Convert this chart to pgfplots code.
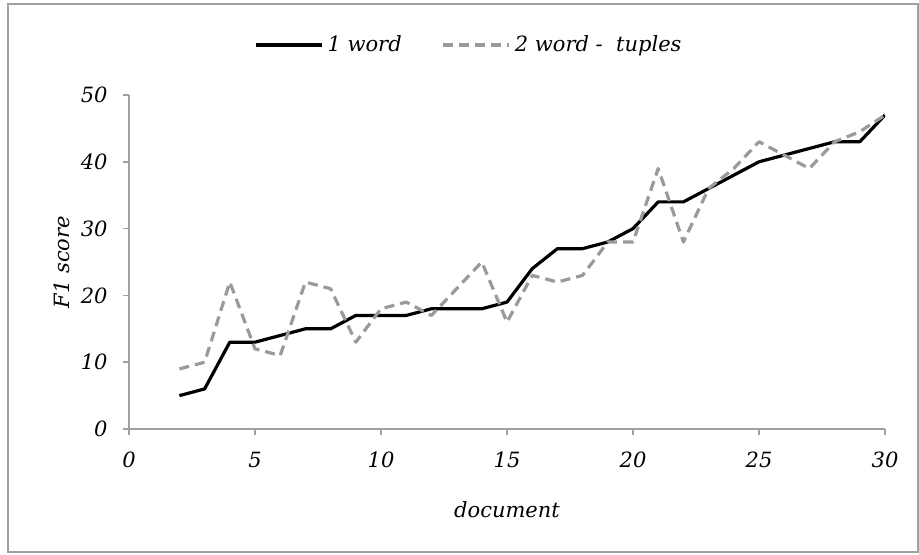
\documentclass[border=0pt]{standalone}
\usepackage{fontspec}
\setmainfont{DejaVu Serif}
\usepackage{pgfplots}
\pgfplotsset{compat=1.18}
\definecolor{axgray}{HTML}{A0A0A0}
\definecolor{dashgray}{HTML}{9A9A9A}
\begin{document}
\fontsize{10.5}{12}\selectfont\itshape
\begin{tikzpicture}
\useasboundingbox (0,0) rectangle (459.5pt,277pt);
\draw[axgray, line width=1pt] (4pt,1pt) rectangle (459pt,275pt);
\begin{axis}[
  at={(64.5pt,62.5pt)}, anchor=south west,
  scale only axis, width=378pt, height=167pt,
  xmin=0, xmax=30, ymin=0, ymax=50,
  xtick={0,5,...,30}, ytick={0,10,...,50},
  axis lines=left,
  axis line style={axgray, line width=0.8pt, -},
  tick style={axgray, line width=0.8pt},
  tick align=outside, major tick length=3pt,
  /pgf/number format/assume math mode=true,
  ticklabel style={font=\fontsize{10.5}{12}\selectfont\itshape},
  xticklabel style={yshift=-5pt},
  yticklabel style={xshift=-4pt},
  xlabel={document}, ylabel={F1 score},
  xlabel style={at={(axis description cs:0.5,-0.2425)}, anchor=center},
  ylabel style={at={(axis description cs:-0.0886,0.5)}, anchor=center},
  legend columns=2,
  legend style={draw=none, fill=none, at={(axis description cs:0.451,1.1497)}, anchor=center,
    font=\fontsize{10.5}{12}\selectfont\itshape,
    /tikz/every even column/.append style={column sep=18pt}},
  legend cell align=left,
  legend image code/.code={\draw[#1] (0pt,0pt) -- (33pt,0pt);},
]
\addplot[black, line width=1.6pt, line join=round] coordinates {
(2,5) (3,6) (4,13) (5,13) (6,14) (7,15) (8,15) (9,17) (10,17) (11,17)
(12,18) (13,18) (14,18) (15,19) (16,24) (17,27) (18,27) (19,28) (20,30)
(21,34) (22,34) (23,36) (24,38) (25,40) (26,41) (27,42) (28,43) (29,43) (30,47)
};
\addlegendentry{1 word}
\addplot[dashgray, line width=1.6pt, dash pattern=on 5pt off 3pt, line join=round] coordinates {
(2,9) (3,10) (4,22) (5,12) (6,11) (7,22) (8,21) (9,13) (10,18) (11,19)
(12,17) (13,21) (14,25) (15,16) (16,23) (17,22) (18,23) (19,28) (20,28)
(21,39) (22,28) (23,36) (24,39) (25,43) (26,41) (27,39) (28,43) (29,44.5) (30,47)
};
\addlegendentry{2 word -~ tuples}
\end{axis}
\end{tikzpicture}
\end{document}
